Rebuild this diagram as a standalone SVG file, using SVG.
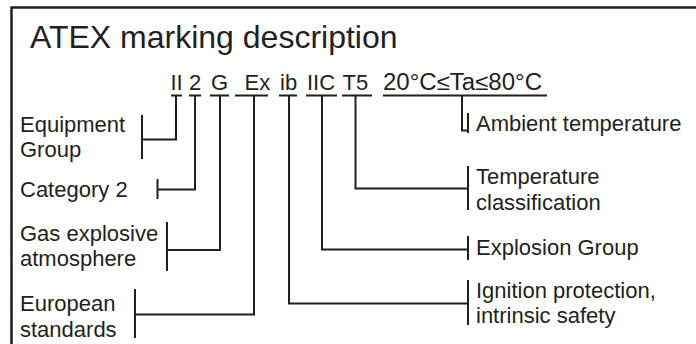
<svg xmlns="http://www.w3.org/2000/svg" width="696" height="344" viewBox="0 0 696 344">
<style>
text{font-family:"Liberation Sans",Arial,sans-serif;fill:#231f20}
.t{font-size:32px}
.h{font-size:22px}
.l{font-size:22px}
.ln{stroke:#231f20;stroke-width:2;fill:none}
.fr{stroke:#231f20;stroke-width:2.5;fill:none}
</style>
<rect width="696" height="344" fill="#ffffff"/>
<path class="fr" d="M11.5 344 V7.5 H696"/>
<g id="title"><text class="t" x="30" y="48">ATEX marking description</text></g>
<g id="marking">
<text class="h" x="176.5" y="90" text-anchor="middle">II</text>
<text class="h" x="195" y="90" text-anchor="middle">2</text>
<text class="h" x="219.5" y="90" text-anchor="middle">G</text>
<text class="h" x="244.5" y="90">Ex</text>
<text class="h" x="280" y="90">ib</text>
<text class="h" x="307" y="90">IIC</text>
<text class="h" x="342.5" y="90">T5</text>
<text class="h" x="383" y="90" style="font-size:23px" textLength="159" lengthAdjust="spacingAndGlyphs">20°C≤Ta≤80°C</text>
<path class="ln" d="M171 95.5 H182 M189 95.5 H201 M210 95.5 H229 M235 95.5 H268 M279 95.5 H297 M306 95.5 H337 M342 95.5 H372 M383 95.5 H547"/>
</g>
<g id="connectors">
<path class="ln" d="M176 95 V139.5 H142 M142 115 V159"/>
<path class="ln" d="M195 95 V189.5 H157.5 M157.5 179 V199"/>
<path class="ln" d="M220 95 V250 H167 M167 222 V271"/>
<path class="ln" d="M254 95 V314.5 H135 M135 289 V338"/>
<path class="ln" d="M289 95 V303.5 H468 M468 280 V325"/>
<path class="ln" d="M322 95 V249.5 H468 M468 236 V260"/>
<path class="ln" d="M355.5 95 V188.5 H468 M468 166 V210"/>
<path class="ln" d="M462 95 V130.5 H468 M468 113 V133"/>
</g>
<g id="equipment-group"><text class="l" x="20" y="132">Equipment</text><text class="l" x="20" y="157">Group</text></g>
<g id="category"><text class="l" x="20" y="197">Category 2</text></g>
<g id="gas"><text class="l" x="20" y="241">Gas explosive</text><text class="l" x="20" y="266">atmosphere</text></g>
<g id="european"><text class="l" x="20" y="311">European</text><text class="l" x="20" y="337">standards</text></g>
<g id="ambient"><text class="l" x="476" y="131">Ambient temperature</text></g>
<g id="temperature"><text class="l" x="476" y="184">Temperature</text><text class="l" x="476" y="210">classification</text></g>
<g id="explosion"><text class="l" x="476" y="255">Explosion Group</text></g>
<g id="ignition"><text class="l" x="476" y="298">Ignition protection,</text><text class="l" x="476" y="323">intrinsic safety</text></g>
</svg>
